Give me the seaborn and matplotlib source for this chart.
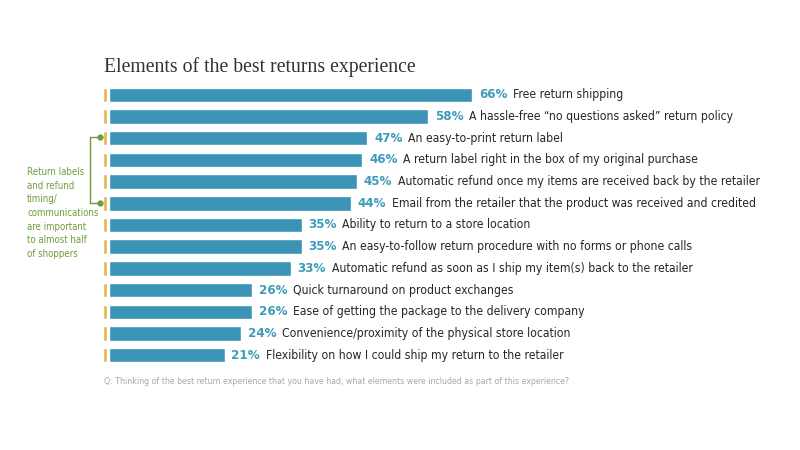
import matplotlib
matplotlib.use("Agg")
import matplotlib.pyplot as plt
import seaborn as sns
import pandas as pd

# === Data ===
labels = [
    "Free return shipping",
    "A hassle-free \u201cno questions asked\u201d return policy",
    "An easy-to-print return label",
    "A return label right in the box of my original purchase",
    "Automatic refund once my items are received back by the retailer",
    "Email from the retailer that the product was received and credited",
    "Ability to return to a store location",
    "An easy-to-follow return procedure with no forms or phone calls",
    "Automatic refund as soon as I ship my item(s) back to the retailer",
    "Quick turnaround on product exchanges",
    "Ease of getting the package to the delivery company",
    "Convenience/proximity of the physical store location",
    "Flexibility on how I could ship my return to the retailer",
]
values = [66, 58, 47, 46, 45, 44, 35, 35, 33, 26, 26, 24, 21]

title = "Elements of the best returns experience"
note = "Return labels\nand refund\ntiming/\ncommunications\nare important\nto almost half\nof shoppers"
question = ("Q: Thinking of the best return experience that you have had, "
            "what elements were included as part of this experience?")

df = pd.DataFrame({"label": labels, "value": values})

BAR = "#3b93b6"
TICK = "#e9b44c"
PCT = "#3f9bbb"
GREEN = "#6f9d3c"

sns.set_style("white")
plt.rcParams["font.family"] = ["DejaVu Sans"]

fig = plt.figure(figsize=(8, 4.5), dpi=100)
W, H = 800, 450
ax = fig.add_axes([109 / W, (450 - 366) / H, (800 - 109) / W, 282 / H])

sns.barplot(data=df, x="value", y="label", orient="h", color=BAR,
            width=0.67, saturation=1, ax=ax)
ax.set_xlim(0, (800 - 109) / 5.5)
ax.set_ylim(12.5, -0.5)

# orange markers at bar starts
ax.barh(range(len(values)), [0.65] * len(values), left=-1.05, height=0.67,
        color=TICK, clip_on=False)

for i, (v, lab) in enumerate(zip(values, labels)):
    ax.annotate(f"{v}%", (v, i), xytext=(7, 0), textcoords="offset pixels",
                va="center", ha="left", fontsize=9.5, color=PCT,
                fontweight="bold", fontstretch="condensed")
    ax.annotate(lab, (v, i), xytext=(41, 0), textcoords="offset pixels",
                va="center", ha="left", fontsize=8.7, color="#262626",
                fontstretch="condensed")

ax.set_xlabel("")
ax.set_ylabel("")
ax.set_xticks([])
ax.set_yticks([])
sns.despine(ax=ax, left=True, bottom=True)

fig.text(104 / W, 1 - 67 / H, title, fontsize=14.2, family="Liberation Serif",
         color="#333333", va="center", ha="left")

fig.text(27 / W, 1 - 213 / H, note, fontsize=6.9, color=GREEN, va="center",
         ha="left", linespacing=1.45, fontstretch="condensed")

# bracket linking note to rows 2 and 5
y_top, y_bot = 1 - 137 / H, 1 - 203 / H
x_v, x_d = 90 / W, 100 / W
fig.add_artist(plt.Line2D([x_v, x_v], [y_top, y_bot], color=GREEN, lw=1))
fig.add_artist(plt.Line2D([x_v, x_d], [y_top, y_top], color=GREEN, lw=1))
fig.add_artist(plt.Line2D([x_v, x_d], [y_bot, y_bot], color=GREEN, lw=1))
fig.add_artist(plt.Line2D([x_d, x_d], [y_top, y_bot], color=GREEN, lw=0,
                          marker="o", markersize=3.5))

fig.text(104 / W, 1 - 382 / H, question, fontsize=6.35, color="#a8a8a8",
         va="center", ha="left", fontstretch="condensed")

fig.savefig("out.png", dpi=100)
